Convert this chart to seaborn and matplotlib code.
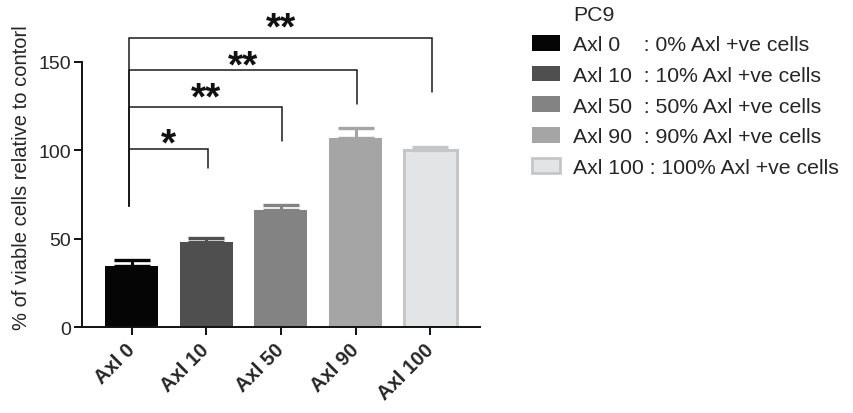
import matplotlib
matplotlib.use("Agg")
import matplotlib.pyplot as plt
import seaborn as sns
import pandas as pd
import numpy as np
from matplotlib.patches import Patch

categories = ["Axl 0", "Axl 10", "Axl 50", "Axl 90", "Axl 100"]
values = [34.5, 48.3, 66.2, 107.1, 100.0]
errors = [3.2, 2.3, 2.8, 5.6, 2.0]
legend_labels = ["Axl 0    : 0% Axl +ve cells", "Axl 10  : 10% Axl +ve cells",
                 "Axl 50  : 50% Axl +ve cells", "Axl 90  : 90% Axl +ve cells",
                 "Axl 100 : 100% Axl +ve cells"]
fill_colors = ["#050505", "#4f4f4f", "#838383", "#a5a5a5", "#e2e4e5"]
edge_colors = ["#050505", "#4f4f4f", "#838383", "#a5a5a5", "#c6c6c6"]
# significance comparisons: group i, group j, bracket height, right-leg bottom
comp_i = [0, 0, 0, 0]
comp_j = [1, 2, 3, 4]
comp_h = [100.7, 124.3, 145.6, 163.5]
comp_rb = [89.8, 105.4, 126.2, 133.2]
comp_star_y = [107.4, 133.4, 151.3, 172.6]
comp_lab = ["*", "**", "**", "**"]
left_leg_bottom = 68.7

sns.set_theme(style="ticks")
plt.rcParams["font.family"] = ["Liberation Sans", "DejaVu Sans"]

df = pd.DataFrame({"group": categories, "value": values})
fig = plt.figure(figsize=(8.54, 4.14), dpi=100)
ax = fig.add_axes([0.096, 0.2077, 0.466, 0.7256])

sns.barplot(data=df, x="group", y="value", hue="group", palette=fill_colors,
            width=0.71, errorbar=None, legend=False, ax=ax, saturation=1)
for i, p in enumerate(ax.patches):
    p.set_edgecolor(edge_colors[i])
    p.set_linewidth(2.2 if i == 4 else 0)

for i, (v, e) in enumerate(zip(values, errors)):
    ax.errorbar([i], [v], yerr=[[0], [e]], fmt="none", ecolor=edge_colors[i],
                elinewidth=2.2, capsize=13.3, capthick=2.4, zorder=1)

for i, j, h, rb, sy, lab in zip(comp_i, comp_j, comp_h, comp_rb, comp_star_y, comp_lab):
    xl = i - 0.03
    xr = j + 0.02
    ax.plot([xl, xl, xr, xr], [left_leg_bottom, h, h, rb], color="#1a1a1a",
            lw=1.1, clip_on=False, solid_joinstyle="miter")
    ax.text((xl + xr) / 2, sy - 9.6, lab, ha="center", va="baseline",
            fontsize=28, fontweight="bold", color="#111111", clip_on=False)

ax.set_xlim(-0.665, 4.665)
ax.set_ylim(0, 170)
ax.set_yticks([0, 50, 100, 150])
ax.spines["left"].set_bounds(0, 150)
for s in ["left", "bottom"]:
    ax.spines[s].set_linewidth(1.4)
    ax.spines[s].set_color("#111111")
sns.despine(ax=ax)
ax.tick_params(axis="both", length=6, width=1.4, color="#111111")
ax.tick_params(axis="y", labelsize=14, pad=2)
ax.tick_params(axis="x", labelsize=14.5, pad=8)
ax.set_xticks(range(len(categories)))
ax.set_xticklabels(categories, rotation=45, ha="right", va="center",
                   rotation_mode="anchor", fontweight="bold")
ax.set_xlabel("")
ax.set_ylabel("% of viable cells relative to contorl", fontsize=14.5, labelpad=5)

handles = [Patch(facecolor=fc, edgecolor=ec, linewidth=2 if k == 4 else 0)
           for k, (fc, ec) in enumerate(zip(fill_colors, edge_colors))]
fig.legend(handles, legend_labels, loc="upper left", bbox_to_anchor=(0.623, 0.913),
           frameon=False, fontsize=15.3, handlelength=1.32, handleheight=0.75,
           handletextpad=0.6, labelspacing=0.54, borderaxespad=0, borderpad=0)
fig.text(0.671, 0.963, "PC9", fontsize=15.3, ha="left", va="center")

fig.savefig("out.png", dpi=100)
